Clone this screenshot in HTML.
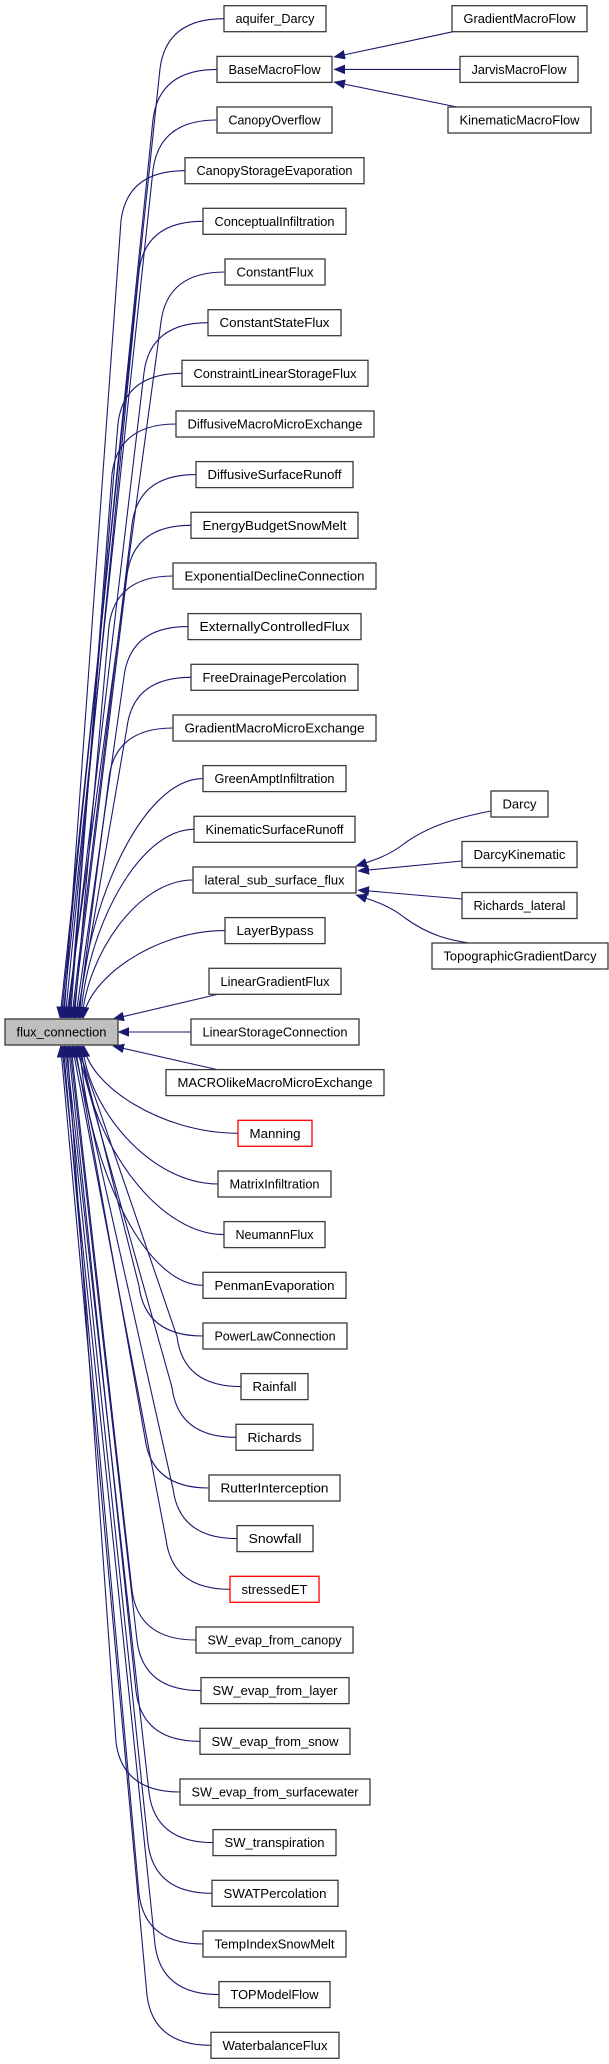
<!DOCTYPE html>
<html><head><meta charset="utf-8"><style>
html,body{margin:0;padding:0;background:#fff;}
svg{display:block;}
text{font-family:"Liberation Sans",Arial,sans-serif;font-size:13px;fill:#000;}
.b{fill:#fff;stroke:#3a3a3a;stroke-width:1.3;}
.r{fill:#fff;stroke:#ff0000;stroke-width:1.3;}
.e{fill:none;stroke:#191970;stroke-width:1.1;marker-start:url(#a);}
</style></head><body>
<svg width="609" height="2064" viewBox="0 0 609 2064" xmlns="http://www.w3.org/2000/svg">
<defs>
<marker id="a" markerUnits="userSpaceOnUse" markerWidth="12" markerHeight="10" refX="11" refY="4.5" orient="auto-start-reverse">
<path d="M0,0 L11,4.5 L0,9 z" fill="#191970" stroke="#191970" stroke-width="0.5"/>
</marker>
</defs>
<g>
<path class="e" d="M60,1018 L160,68.7 C164,36.7 184,18.7 224,18.7"/>
<path class="e" d="M61.3,1018 L153,119.4 C157,87.4 177,69.4 217,69.4"/>
<path class="e" d="M62.6,1018 L153,170 C157,138 177,120 217,120"/>
<path class="e" d="M63.9,1018 L121,220.7 C125,188.7 145,170.7 185,170.7"/>
<path class="e" d="M65.2,1018 L139,271.3 C143,239.3 163,221.3 203,221.3"/>
<path class="e" d="M66.5,1018 L161,322 C165,290 185,272 225,272"/>
<path class="e" d="M67.8,1018 L144,372.7 C148,340.7 168,322.7 208,322.7"/>
<path class="e" d="M69.1,1018 L118,423.3 C122,391.3 142,373.3 182,373.3"/>
<path class="e" d="M70.4,1018 L112,474 C116,442 136,424 176,424"/>
<path class="e" d="M71.7,1018 L132,524.6 C136,492.6 156,474.6 196,474.6"/>
<path class="e" d="M73,1018 L127,575.3 C131,543.3 151,525.3 191,525.3"/>
<path class="e" d="M74.3,1018 L109,626 C113,594 133,576 173,576"/>
<path class="e" d="M75.6,1018 L124,676.6 C128,644.6 148,626.6 188,626.6"/>
<path class="e" d="M76.9,1018 L127,727.3 C131,695.3 151,677.3 191,677.3"/>
<path class="e" d="M78.2,1018 L109,778 C113,746 133,728 173,728"/>
<path class="e" d="M79.5,1018 C84.5,910 141,778.6 203,778.6"/>
<path class="e" d="M80.8,1018 C85.8,933 137,829.3 194,829.3"/>
<path class="e" d="M82.1,1018 C87,956 137,880 193,880"/>
<path class="e" d="M83.4,1018 C88,979 154,930.6 225,930.6"/>
<path class="e" d="M113,1019 L219,994"/>
<path class="e" d="M118,1032 L191,1032"/>
<path class="e" d="M113,1046 L219,1070"/>
<path class="e" d="M84,1046 C89,1085 161,1133.3 238,1133.3"/>
<path class="e" d="M82.7,1046 C87.7,1108 150,1184 218,1184"/>
<path class="e" d="M81.4,1046 C86.4,1131 153,1234.6 224,1234.6"/>
<path class="e" d="M80.1,1046 C85.1,1154 141,1285.3 203,1285.3"/>
<path class="e" d="M78.8,1046 L139,1286 C143,1318 163,1336 203,1336"/>
<path class="e" d="M77.5,1046 L177,1336.6 C181,1368.6 201,1386.6 241,1386.6"/>
<path class="e" d="M76.2,1046 L172,1387.3 C176,1419.3 196,1437.3 236,1437.3"/>
<path class="e" d="M74.9,1046 L145,1438 C149,1470 169,1488 209,1488"/>
<path class="e" d="M73.6,1046 L173,1488.6 C177,1520.6 197,1538.6 237,1538.6"/>
<path class="e" d="M72.3,1046 L166,1539.3 C170,1571.3 190,1589.3 230,1589.3"/>
<path class="e" d="M71,1046 L132,1590 C136,1622 156,1640 196,1640"/>
<path class="e" d="M69.7,1046 L137,1640.6 C141,1672.6 161,1690.6 201,1690.6"/>
<path class="e" d="M68.4,1046 L136,1691.3 C140,1723.3 160,1741.3 200,1741.3"/>
<path class="e" d="M67.1,1046 L116,1742 C120,1774 140,1792 180,1792"/>
<path class="e" d="M65.8,1046 L149,1792.6 C153,1824.6 173,1842.6 213,1842.6"/>
<path class="e" d="M64.5,1046 L148,1843.3 C152,1875.3 172,1893.3 212,1893.3"/>
<path class="e" d="M63.2,1046 L139,1894 C143,1926 163,1944 203,1944"/>
<path class="e" d="M61.9,1046 L155,1944.6 C159,1976.6 179,1994.6 219,1994.6"/>
<path class="e" d="M60.6,1046 L147,1995.3 C151,2027.3 171,2045.3 211,2045.3"/>
<path class="e" d="M334,57 L453,31.7"/>
<path class="e" d="M334,69.4 L460,69.4"/>
<path class="e" d="M334,82 L457,107"/>
<path class="e" d="M356,866 C375,860 390,855 405,843 C430,825 460,817 491,811"/>
<path class="e" d="M358,871 L462,861"/>
<path class="e" d="M358,890 L462,899"/>
<path class="e" d="M356,895 C375,901 390,906 405,918 C430,936 450,940 469,943"/>
</g>
<g>
<rect class="b" x="5" y="1019" width="113" height="26" style="fill:#bfbfbf"/><text x="61.5" y="1036.5" text-anchor="middle" textLength="90" lengthAdjust="spacingAndGlyphs">flux_connection</text>
</g>
<g>
<rect class="b" x="224" y="5.7" width="102" height="26"/><text x="275" y="23.2" text-anchor="middle" textLength="79" lengthAdjust="spacingAndGlyphs">aquifer_Darcy</text>
<rect class="b" x="217" y="56.4" width="115" height="26"/><text x="274.5" y="73.9" text-anchor="middle" textLength="92" lengthAdjust="spacingAndGlyphs">BaseMacroFlow</text>
<rect class="b" x="217" y="107" width="115" height="26"/><text x="274.5" y="124.5" text-anchor="middle" textLength="92" lengthAdjust="spacingAndGlyphs">CanopyOverflow</text>
<rect class="b" x="185" y="157.7" width="179" height="26"/><text x="274.5" y="175.2" text-anchor="middle" textLength="156" lengthAdjust="spacingAndGlyphs">CanopyStorageEvaporation</text>
<rect class="b" x="203" y="208.3" width="143" height="26"/><text x="274.5" y="225.8" text-anchor="middle" textLength="120" lengthAdjust="spacingAndGlyphs">ConceptualInfiltration</text>
<rect class="b" x="225" y="259" width="100" height="26"/><text x="275" y="276.5" text-anchor="middle" textLength="77" lengthAdjust="spacingAndGlyphs">ConstantFlux</text>
<rect class="b" x="208" y="309.7" width="133" height="26"/><text x="274.5" y="327.2" text-anchor="middle" textLength="110" lengthAdjust="spacingAndGlyphs">ConstantStateFlux</text>
<rect class="b" x="182" y="360.3" width="186" height="26"/><text x="275" y="377.8" text-anchor="middle" textLength="163" lengthAdjust="spacingAndGlyphs">ConstraintLinearStorageFlux</text>
<rect class="b" x="176" y="411" width="198" height="26"/><text x="275" y="428.5" text-anchor="middle" textLength="175" lengthAdjust="spacingAndGlyphs">DiffusiveMacroMicroExchange</text>
<rect class="b" x="196" y="461.6" width="157" height="26"/><text x="274.5" y="479.1" text-anchor="middle" textLength="134" lengthAdjust="spacingAndGlyphs">DiffusiveSurfaceRunoff</text>
<rect class="b" x="191" y="512.3" width="167" height="26"/><text x="274.5" y="529.8" text-anchor="middle" textLength="144" lengthAdjust="spacingAndGlyphs">EnergyBudgetSnowMelt</text>
<rect class="b" x="173" y="563" width="203" height="26"/><text x="274.5" y="580.5" text-anchor="middle" textLength="180" lengthAdjust="spacingAndGlyphs">ExponentialDeclineConnection</text>
<rect class="b" x="188" y="613.6" width="173" height="26"/><text x="274.5" y="631.1" text-anchor="middle" textLength="150" lengthAdjust="spacingAndGlyphs">ExternallyControlledFlux</text>
<rect class="b" x="191" y="664.3" width="167" height="26"/><text x="274.5" y="681.8" text-anchor="middle" textLength="144" lengthAdjust="spacingAndGlyphs">FreeDrainagePercolation</text>
<rect class="b" x="173" y="715" width="203" height="26"/><text x="274.5" y="732.5" text-anchor="middle" textLength="180" lengthAdjust="spacingAndGlyphs">GradientMacroMicroExchange</text>
<rect class="b" x="203" y="765.6" width="143" height="26"/><text x="274.5" y="783.1" text-anchor="middle" textLength="120" lengthAdjust="spacingAndGlyphs">GreenAmptInfiltration</text>
<rect class="b" x="194" y="816.3" width="161" height="26"/><text x="274.5" y="833.8" text-anchor="middle" textLength="138" lengthAdjust="spacingAndGlyphs">KinematicSurfaceRunoff</text>
<rect class="b" x="193" y="867" width="163" height="26"/><text x="274.5" y="884.5" text-anchor="middle" textLength="140" lengthAdjust="spacingAndGlyphs">lateral_sub_surface_flux</text>
<rect class="b" x="225" y="917.6" width="100" height="26"/><text x="275" y="935.1" text-anchor="middle" textLength="77" lengthAdjust="spacingAndGlyphs">LayerBypass</text>
<rect class="b" x="209" y="968.3" width="132" height="26"/><text x="275" y="985.8" text-anchor="middle" textLength="109" lengthAdjust="spacingAndGlyphs">LinearGradientFlux</text>
<rect class="b" x="191" y="1019" width="168" height="26"/><text x="275" y="1036.5" text-anchor="middle" textLength="145" lengthAdjust="spacingAndGlyphs">LinearStorageConnection</text>
<rect class="b" x="166" y="1069.6" width="218" height="26"/><text x="275" y="1087.1" text-anchor="middle" textLength="195" lengthAdjust="spacingAndGlyphs">MACROlikeMacroMicroExchange</text>
<rect class="r" x="238" y="1120.3" width="74" height="26"/><text x="275" y="1137.8" text-anchor="middle" textLength="51" lengthAdjust="spacingAndGlyphs">Manning</text>
<rect class="b" x="218" y="1171" width="113" height="26"/><text x="274.5" y="1188.5" text-anchor="middle" textLength="90" lengthAdjust="spacingAndGlyphs">MatrixInfiltration</text>
<rect class="b" x="224" y="1221.6" width="101" height="26"/><text x="274.5" y="1239.1" text-anchor="middle" textLength="78" lengthAdjust="spacingAndGlyphs">NeumannFlux</text>
<rect class="b" x="203" y="1272.3" width="143" height="26"/><text x="274.5" y="1289.8" text-anchor="middle" textLength="120" lengthAdjust="spacingAndGlyphs">PenmanEvaporation</text>
<rect class="b" x="203" y="1323" width="144" height="26"/><text x="275" y="1340.5" text-anchor="middle" textLength="121" lengthAdjust="spacingAndGlyphs">PowerLawConnection</text>
<rect class="b" x="241" y="1373.6" width="67" height="26"/><text x="274.5" y="1391.1" text-anchor="middle" textLength="44" lengthAdjust="spacingAndGlyphs">Rainfall</text>
<rect class="b" x="236" y="1424.3" width="77" height="26"/><text x="274.5" y="1441.8" text-anchor="middle" textLength="54" lengthAdjust="spacingAndGlyphs">Richards</text>
<rect class="b" x="209" y="1475" width="131" height="26"/><text x="274.5" y="1492.5" text-anchor="middle" textLength="108" lengthAdjust="spacingAndGlyphs">RutterInterception</text>
<rect class="b" x="237" y="1525.6" width="76" height="26"/><text x="275" y="1543.1" text-anchor="middle" textLength="53" lengthAdjust="spacingAndGlyphs">Snowfall</text>
<rect class="r" x="230" y="1576.3" width="89" height="26"/><text x="274.5" y="1593.8" text-anchor="middle" textLength="66" lengthAdjust="spacingAndGlyphs">stressedET</text>
<rect class="b" x="196" y="1627" width="157" height="26"/><text x="274.5" y="1644.5" text-anchor="middle" textLength="134" lengthAdjust="spacingAndGlyphs">SW_evap_from_canopy</text>
<rect class="b" x="201" y="1677.6" width="148" height="26"/><text x="275" y="1695.1" text-anchor="middle" textLength="125" lengthAdjust="spacingAndGlyphs">SW_evap_from_layer</text>
<rect class="b" x="200" y="1728.3" width="150" height="26"/><text x="275" y="1745.8" text-anchor="middle" textLength="127" lengthAdjust="spacingAndGlyphs">SW_evap_from_snow</text>
<rect class="b" x="180" y="1779" width="190" height="26"/><text x="275" y="1796.5" text-anchor="middle" textLength="167" lengthAdjust="spacingAndGlyphs">SW_evap_from_surfacewater</text>
<rect class="b" x="213" y="1829.6" width="123" height="26"/><text x="274.5" y="1847.1" text-anchor="middle" textLength="100" lengthAdjust="spacingAndGlyphs">SW_transpiration</text>
<rect class="b" x="212" y="1880.3" width="126" height="26"/><text x="275" y="1897.8" text-anchor="middle" textLength="103" lengthAdjust="spacingAndGlyphs">SWATPercolation</text>
<rect class="b" x="203" y="1931" width="143" height="26"/><text x="274.5" y="1948.5" text-anchor="middle" textLength="120" lengthAdjust="spacingAndGlyphs">TempIndexSnowMelt</text>
<rect class="b" x="219" y="1981.6" width="111" height="26"/><text x="274.5" y="1999.1" text-anchor="middle" textLength="88" lengthAdjust="spacingAndGlyphs">TOPModelFlow</text>
<rect class="b" x="211" y="2032.3" width="128" height="26"/><text x="275" y="2049.8" text-anchor="middle" textLength="105" lengthAdjust="spacingAndGlyphs">WaterbalanceFlux</text>
</g>
<g>
<rect class="b" x="452" y="5.7" width="135" height="26"/><text x="519.5" y="23.2" text-anchor="middle" textLength="112" lengthAdjust="spacingAndGlyphs">GradientMacroFlow</text>
<rect class="b" x="460" y="56.4" width="118" height="26"/><text x="519" y="73.9" text-anchor="middle" textLength="95" lengthAdjust="spacingAndGlyphs">JarvisMacroFlow</text>
<rect class="b" x="448" y="107" width="143" height="26"/><text x="519.5" y="124.5" text-anchor="middle" textLength="120" lengthAdjust="spacingAndGlyphs">KinematicMacroFlow</text>
<rect class="b" x="491" y="791" width="57" height="26"/><text x="519.5" y="808.5" text-anchor="middle" textLength="34" lengthAdjust="spacingAndGlyphs">Darcy</text>
<rect class="b" x="462" y="841.5" width="115" height="26"/><text x="519.5" y="859" text-anchor="middle" textLength="92" lengthAdjust="spacingAndGlyphs">DarcyKinematic</text>
<rect class="b" x="462" y="892.5" width="115" height="26"/><text x="519.5" y="910" text-anchor="middle" textLength="92" lengthAdjust="spacingAndGlyphs">Richards_lateral</text>
<rect class="b" x="432" y="943" width="176" height="26"/><text x="520" y="960.5" text-anchor="middle" textLength="153" lengthAdjust="spacingAndGlyphs">TopographicGradientDarcy</text>
</g>
</svg>
</body></html>
